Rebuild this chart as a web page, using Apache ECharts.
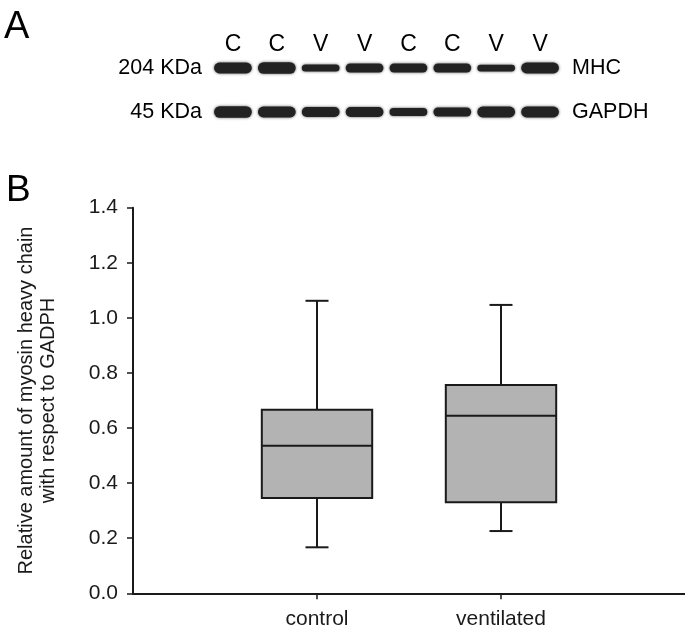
<!DOCTYPE html>
<html><head><meta charset="utf-8">
<script src="https://cdn.jsdelivr.net/npm/echarts@6/dist/echarts.min.js"></script>
<style>html,body{margin:0;padding:0;background:#fff}#c{width:685px;height:637px}</style>
</head><body><div id="c"></div>
<script>
// ---- Panel A: western blot ----
const lanes = ['C','C','V','V','C','C','V','V'];
const blotRowsLeft = ['204 KDa','45 KDa'];
const blotRowsRight = ['MHC','GAPDH'];
const mhcBand = [1.2, 1.3, 0.8, 1.0, 1.0, 1.0, 0.75, 1.2];
const gapdhBand = [1.3, 1.2, 1.1, 1.1, 0.9, 1.0, 1.2, 1.2];

// ---- Panel B: box plot ----
const categories = ['control','ventilated'];
const whiskerLow = [0.167, 0.226];
const q1 = [0.346, 0.331];
const median = [0.536, 0.645];
const q3 = [0.666, 0.756];
const whiskerHigh = [1.062, 1.047];
const yTicks = [0,0.2,0.4,0.6,0.8,1.0,1.2,1.4];

const FONT = "'Liberation Sans', Arial, sans-serif";
const INK = '#1a1a1a';

const blotData = [];
lanes.forEach((l,i)=>{ blotData.push([i,0,mhcBand[i]]); blotData.push([i,1,gapdhBand[i]]); });
const boxData = categories.map((c,i)=>[i+1, whiskerLow[i], q1[i], median[i], q3[i], whiskerHigh[i]]);

const chart = echarts.init(document.getElementById('c'), null, {renderer:'canvas'});
chart.setOption({
  backgroundColor:'#fff',
  animation:false,
  textStyle:{fontFamily:FONT},
  graphic:[
    {type:'text', left:4, top:9, style:{text:'A', font:'38px '+FONT, fill:'#000'}},
    {type:'text', left:6, top:172, style:{text:'B', font:'37px '+FONT, fill:'#000'}}
  ],
  grid:[
    {left:133, right:0, top:207.7, bottom:43.7, containLabel:false},
    {left:211, width:351, top:46, height:88, containLabel:false}
  ],
  xAxis:[
    {type:'value', gridIndex:0, min:0, max:3, interval:1,
     axisLine:{show:true, lineStyle:{color:INK, width:2}},
     axisTick:{show:true, length:6, lineStyle:{color:INK, width:1.5}, customValues:[1,2]},
     axisLabel:{color:INK, fontSize:21, fontFamily:FONT, margin:15, customValues:[1,2],
       formatter:v=>categories[Math.round(v)-1]||''},
     splitLine:{show:false}},
    {type:'category', gridIndex:1, data:lanes, position:'top',
     axisLine:{show:false}, axisTick:{show:false},
     axisLabel:{color:'#000', fontSize:23, fontFamily:FONT, margin:-10}}
  ],
  yAxis:[
    {type:'value', gridIndex:0, min:0, max:1.4, interval:0.2,
     name:'Relative amount of myosin heavy chain\nwith respect to GADPH',
     nameLocation:'middle', nameRotate:90, nameGap:74,
     nameTextStyle:{color:INK, fontSize:20, fontFamily:FONT, lineHeight:22},
     axisLine:{show:true, lineStyle:{color:INK, width:2}},
     axisTick:{show:true, length:6, lineStyle:{color:INK, width:1.5}},
     axisLabel:{color:INK, fontSize:21, fontFamily:FONT, margin:15, formatter:v=>v.toFixed(1)},
     splitLine:{show:false}},
    {type:'category', gridIndex:1, data:blotRowsLeft, inverse:true, position:'left',
     axisLine:{show:false}, axisTick:{show:false},
     axisLabel:{color:'#000', fontSize:21.5, fontFamily:FONT, margin:9}},
    {type:'category', gridIndex:1, data:blotRowsRight, inverse:true, position:'right',
     axisLine:{show:false}, axisTick:{show:false},
     axisLabel:{color:'#000', fontSize:21.5, fontFamily:FONT, margin:10}}
  ],
  series:[
    {type:'custom', xAxisIndex:0, yAxisIndex:0, data:boxData,
     renderItem:(params, api)=>{
       const x = api.value(0);
       const unit = api.size([1,0])[0];
       const bw = unit*0.6, cw = unit*0.125;
       const pLo = api.coord([x, api.value(1)]);
       const pQ1 = api.coord([x, api.value(2)]);
       const pMd = api.coord([x, api.value(3)]);
       const pQ3 = api.coord([x, api.value(4)]);
       const pHi = api.coord([x, api.value(5)]);
       const cx = pMd[0];
       const ls = {stroke:INK, lineWidth:2, fill:null};
       return {type:'group', children:[
         {type:'line', shape:{x1:cx,y1:pHi[1],x2:cx,y2:pQ3[1]}, style:ls},
         {type:'line', shape:{x1:cx,y1:pQ1[1],x2:cx,y2:pLo[1]}, style:ls},
         {type:'line', shape:{x1:cx-cw/2,y1:pHi[1],x2:cx+cw/2,y2:pHi[1]}, style:ls},
         {type:'line', shape:{x1:cx-cw/2,y1:pLo[1],x2:cx+cw/2,y2:pLo[1]}, style:ls},
         {type:'rect', shape:{x:cx-bw/2, y:pQ3[1], width:bw, height:pQ1[1]-pQ3[1]},
          style:{fill:'#b3b3b3', stroke:INK, lineWidth:2}},
         {type:'line', shape:{x1:cx-bw/2,y1:pMd[1],x2:cx+bw/2,y2:pMd[1]}, style:ls}
       ]};
     }},
    {type:'custom', xAxisIndex:1, yAxisIndex:1, data:blotData,
     renderItem:(params, api)=>{
       const p = api.coord([api.value(0), api.value(1)]);
       const w = api.size([1,0])[0]*0.86;
       const h = api.value(2)*9;
       return {type:'rect', shape:{x:p[0]-w/2, y:p[1]-h/2, width:w, height:h, r:h/2},
         style:{fill:'#222', shadowBlur:3, shadowColor:'rgba(0,0,0,0.65)'}};
     }}
  ]
});
</script></body></html>
